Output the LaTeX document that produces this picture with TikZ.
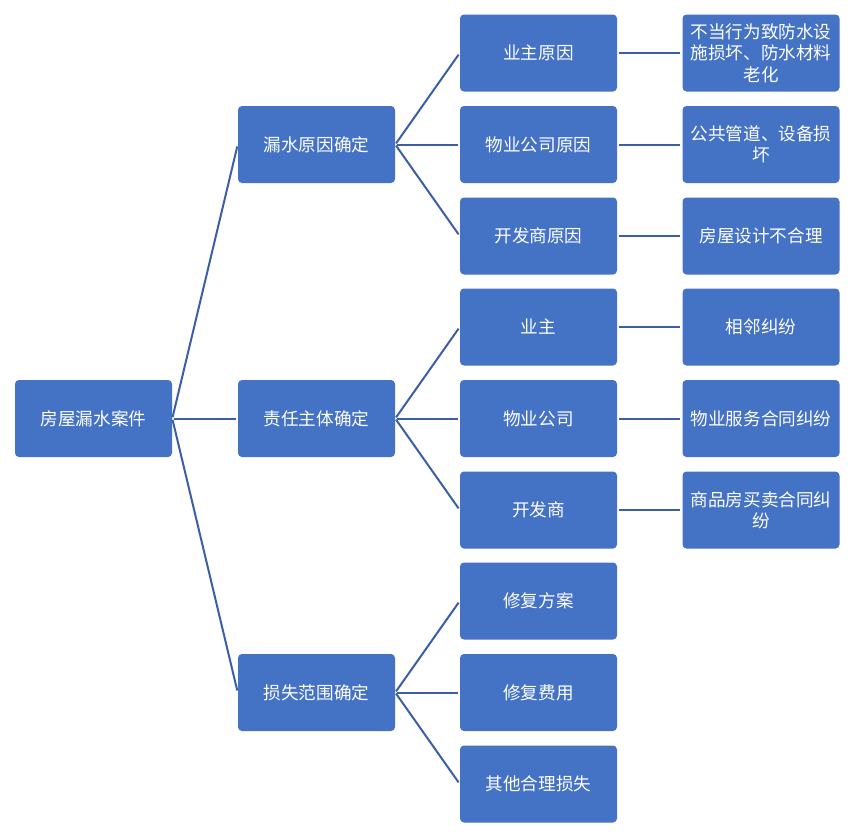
\documentclass[tikz,border=0pt]{standalone}
\usepackage{fontspec}
\setmainfont{Noto Sans CJK SC}
\definecolor{boxblue}{HTML}{4472C4}
\definecolor{lineblue}{HTML}{3B5FA6}
\tikzset{
    box/.style={fill=boxblue, rounded corners=3pt, minimum width=117.75pt, minimum height=57.75pt,
        text=white, font=\fontsize{13.2pt}{16.1pt}\selectfont, align=center, inner sep=0pt},
    link/.style={lineblue, line width=1.5pt, shorten <=1pt, shorten >=1.5pt}
}
\begin{document}
\begin{tikzpicture}[x=0.75pt, y=-0.75pt]
    \useasboundingbox (0,0) rectangle (857,839);
    % root
    \node[box] (root) at (93.5,418.5) {房屋漏水案件};
    % first level
    \node[box] (cause) at (316.5,144.5) {漏水原因确定};
    \node[box] (duty)  at (316.5,418.5) {责任主体确定};
    \node[box] (loss)  at (316.5,692.5) {损失范围确定};
    % second level
    \node[box] (c1) at (538.5,53)    {业主原因};
    \node[box] (c2) at (538.5,144.5) {物业公司原因};
    \node[box] (c3) at (538.5,236)   {开发商原因};
    \node[box] (d1) at (538.5,327)   {业主};
    \node[box] (d2) at (538.5,418.5) {物业公司};
    \node[box] (d3) at (538.5,510)   {开发商};
    \node[box] (l1) at (538.5,601)   {修复方案};
    \node[box] (l2) at (538.5,692.5) {修复费用};
    \node[box] (l3) at (538.5,784)   {其他合理损失};
    % third level
    \node[box] (c1x) at (761,53)    {不当行为致防水设\\施损坏、防水材料\\老化};
    \node[box] (c2x) at (761,144.5) {公共管道、设备损\\坏};
    \node[box] (c3x) at (761,236)   {房屋设计不合理};
    \node[box] (d1x) at (761,327)   {相邻纠纷};
    \node[box] (d2x) at (761,418.5) {物业服务合同纠纷};
    \node[box] (d3x) at (761,510)   {商品房买卖合同纠\\纷};
    % connectors
    \foreach \p/\c in {root/cause, root/duty, root/loss,
                       cause/c1, cause/c2, cause/c3,
                       duty/d1, duty/d2, duty/d3,
                       loss/l1, loss/l2, loss/l3,
                       c1/c1x, c2/c2x, c3/c3x, d1/d1x, d2/d2x, d3/d3x}
        \draw[link] (\p.east) -- (\c.west);
\end{tikzpicture}
\end{document}
